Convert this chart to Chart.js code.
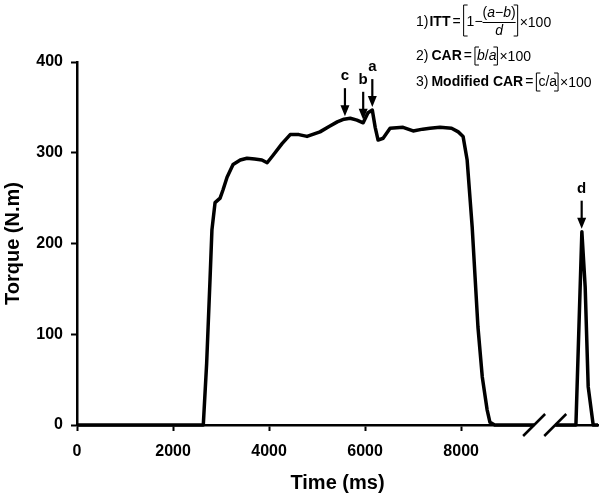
<!DOCTYPE html>
<html lang="en">
<head>
    <meta charset="UTF-8">
    <title>Torque trace</title>
    <script src="https://cdn.jsdelivr.net/npm/chart.js"></script>
    <style>
        body { margin: 0; background: #fff; }
    </style>
</head>
<body>
    <canvas id="myChart" width="601" height="497"></canvas>

    <script>
        // torque trace (ms, N.m)
        const timeMs = [0, 2630, 2700, 2770, 2810, 2875, 2980, 3040, 3125, 3250, 3400, 3540, 3700, 3850, 3960, 4080, 4270, 4440, 4620, 4790, 5060, 5250, 5420, 5560, 5690, 5830, 5960, 6060, 6150, 6210, 6270, 6375, 6520, 6790, 7000, 7200, 7350, 7560, 7800, 7940, 8040, 8125, 8230, 8290, 8350, 8440, 8540, 8600, 8700, 10390, 10514, 10583, 10646, 10750, 10850];
        const torque = [0, 0, 68, 160, 215, 245, 250, 259, 273, 287, 292, 294, 293, 292, 289, 297, 310, 320, 320, 318, 323, 329, 334, 337, 338, 336, 333, 344, 347, 328, 314, 316, 327, 328, 324, 326, 327, 328, 327, 323, 318, 292, 218, 163, 108, 53, 17, 3, 0, 0, 213, 152, 42, 0, 0];

        const xTicks = [0, 2000, 4000, 6000, 8000];
        const yTicks = [0, 100, 200, 300, 400];

        // arrows: label, time, torque at tip
        const markerLabels = ['c', 'b', 'a', 'd'];
        const markerTimes = [5580, 5960, 6150, 10510];
        const markerValues = [337, 333, 347, 213];

        const axisBreak = [9520, 9960];

        const ctx = document.getElementById('myChart').getContext('2d');

        const points = timeMs.map((t, i) => ({ x: t, y: torque[i] }));

        function bracket(c, x, top, bottom, dir) {
            c.beginPath();
            c.moveTo(x + 4 * dir, top);
            c.lineTo(x, top);
            c.lineTo(x, bottom);
            c.lineTo(x + 4 * dir, bottom);
            c.stroke();
        }

        function run(c, x, y, parts) {
            parts.forEach(p => {
                c.font = p.f;
                c.fillText(p.t, x, y);
                x += c.measureText(p.t).width + (p.gap || 0);
            });
            return x;
        }

        const extras = {
            id: 'extras',
            afterDatasetsDraw(chart) {
                const c = chart.ctx;
                const xs = chart.scales.x, ys = chart.scales.y;
                const y0 = ys.getPixelForValue(0);

                // axis break
                const b1 = xs.getPixelForValue(axisBreak[0]);
                const b2 = xs.getPixelForValue(axisBreak[1]);
                c.save();
                c.fillStyle = '#fff';
                c.fillRect(b1, y0 - 4, b2 - b1, 8);
                c.strokeStyle = '#000';
                c.lineWidth = 2.5;
                [b1, b2].forEach(bx => {
                    c.beginPath();
                    c.moveTo(bx - 11, y0 + 11);
                    c.lineTo(bx + 11, y0 - 11);
                    c.stroke();
                });

                // arrows
                c.fillStyle = '#000';
                c.textAlign = 'center';
                c.textBaseline = 'middle';
                c.font = 'bold 15px "Liberation Sans", Arial, sans-serif';
                markerLabels.forEach((lab, i) => {
                    const px = xs.getPixelForValue(markerTimes[i]);
                    const tip = ys.getPixelForValue(markerValues[i]) - 3;
                    const top = tip - 28;
                    c.lineWidth = 2.2;
                    c.beginPath();
                    c.moveTo(px, top);
                    c.lineTo(px, tip - 8);
                    c.stroke();
                    c.beginPath();
                    c.moveTo(px - 4.5, tip - 11);
                    c.lineTo(px + 4.5, tip - 11);
                    c.lineTo(px, tip);
                    c.closePath();
                    c.fill();
                    c.fillText(lab, px, top - 12);
                });

                // formulas
                const reg = '14px "Liberation Sans", Arial, sans-serif';
                const bold = 'bold 14px "Liberation Sans", Arial, sans-serif';
                const ital = 'italic 14px "Liberation Sans", Arial, sans-serif';
                c.textAlign = 'left';
                c.lineWidth = 1;

                let x = run(c, 416, 22, [
                    { t: '1)', f: reg, gap: 1 },
                    { t: 'ITT', f: bold, gap: 2 },
                    { t: '=', f: reg, gap: 3 }
                ]);
                bracket(c, x, 5, 36, 1);
                x = run(c, x + 3, 22, [{ t: '1\u2212', f: reg }]);
                const fx = x;
                x = run(c, fx, 13, [
                    { t: '(', f: reg }, { t: 'a', f: ital }, { t: '\u2212', f: reg },
                    { t: 'b', f: ital }, { t: ')', f: reg }
                ]);
                c.beginPath();
                c.moveTo(fx, 22.5);
                c.lineTo(x, 22.5);
                c.stroke();
                c.textAlign = 'center';
                c.font = ital;
                c.fillText('d', (fx + x) / 2, 31);
                c.textAlign = 'left';
                bracket(c, x + 2, 5, 36, -1);
                run(c, x + 4, 23, [{ t: '\u00d7100', f: reg }]);

                x = run(c, 416, 56, [
                    { t: '2)', f: reg, gap: 3 },
                    { t: 'CAR', f: bold, gap: 2 },
                    { t: '=', f: reg, gap: 3 }
                ]);
                bracket(c, x, 47, 65, 1);
                x = run(c, x + 2, 56, [
                    { t: 'b', f: ital }, { t: '/', f: reg }, { t: 'a', f: ital }
                ]);
                bracket(c, x + 1, 47, 65, -1);
                run(c, x + 3, 57, [{ t: '\u00d7100', f: reg }]);

                x = run(c, 416, 82, [
                    { t: '3)', f: reg, gap: 3 },
                    { t: 'Modified CAR', f: bold, gap: 2 },
                    { t: '=', f: reg, gap: 3 }
                ]);
                bracket(c, x, 73, 91, 1);
                x = run(c, x + 2, 82, [{ t: 'c/a', f: reg }]);
                bracket(c, x + 1, 73, 91, -1);
                run(c, x + 3, 83, [{ t: '\u00d7100', f: reg }]);

                c.restore();
            }
        };

        const tickFont = { family: '"Liberation Sans", Arial, sans-serif', size: 16, weight: 'bold' };
        const titleFont = { family: '"Liberation Sans", Arial, sans-serif', size: 20, weight: 'bold' };

        new Chart(ctx, {
            type: 'line',
            data: {
                datasets: [{
                    data: points,
                    borderColor: '#000',
                    borderWidth: 3.5,
                    pointRadius: 0,
                    tension: 0,
                    fill: false,
                    clip: false,
                    borderJoinStyle: 'round'
                }]
            },
            options: {
                responsive: false,
                animation: false,
                layout: { padding: { top: 62, right: 3, left: 0, bottom: 0 } },
                plugins: { legend: { display: false }, tooltip: { enabled: false } },
                scales: {
                    x: {
                        type: 'linear',
                        min: 0,
                        max: 10850,
                        afterFit: s => { s.height = 72; },
                        afterBuildTicks: s => { s.ticks = xTicks.map(v => ({ value: v })); },
                        grid: { drawOnChartArea: false, tickLength: 6, tickWidth: 2, tickColor: '#000' },
                        border: { color: '#000', width: 2.5 },
                        ticks: { color: '#000', font: tickFont, padding: 11, maxRotation: 0, callback: v => String(v) },
                        title: { display: true, text: 'Time (ms)', color: '#000', font: titleFont, padding: { top: 0, bottom: 2 } }
                    },
                    y: {
                        min: 0,
                        max: 400,
                        afterFit: s => { s.width = 77; },
                        afterBuildTicks: s => { s.ticks = yTicks.map(v => ({ value: v })); },
                        grid: { drawOnChartArea: false, tickLength: 6, tickWidth: 2, tickColor: '#000' },
                        border: { color: '#000', width: 2.5 },
                        ticks: { color: '#000', font: tickFont, padding: 8, callback: v => String(v) },
                        title: { display: true, text: 'Torque (N.m)', color: '#000', font: titleFont, padding: { top: 1, bottom: 0 } }
                    }
                }
            },
            plugins: [extras]
        });
    </script>
</body>
</html>
